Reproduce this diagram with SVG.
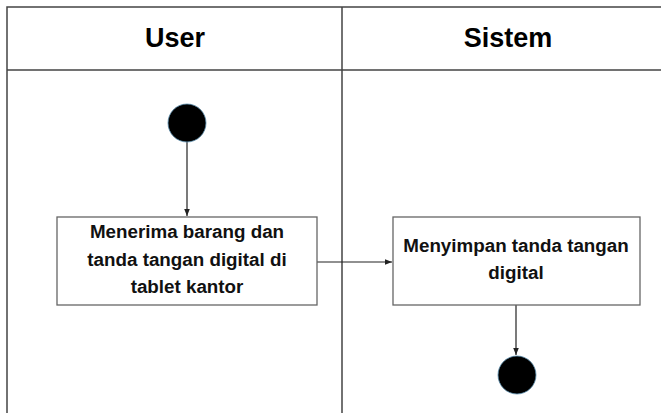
<svg xmlns="http://www.w3.org/2000/svg" width="661" height="413" viewBox="0 0 661 413">
<defs>
<style>
.lane{stroke:#444;stroke-width:1.5;fill:none}
.box{fill:#fff;stroke:#666;stroke-width:1.3}
.hdr{font-family:"Liberation Sans",Arial,sans-serif;font-weight:bold;font-size:27px;fill:#000;text-anchor:middle}
.lbl{font-family:"Liberation Sans",Arial,sans-serif;font-weight:bold;font-size:18.8px;fill:#111;text-anchor:middle}
.edge{stroke:#222;stroke-width:1.2;fill:none;marker-end:url(#arr)}
.dot{fill:#000;stroke:#5a8fb0;stroke-width:0.8}
</style>
<marker id="arr" viewBox="0 0 10 10" refX="10" refY="5" markerWidth="7" markerHeight="7" markerUnits="userSpaceOnUse" orient="auto">
<path d="M0,1 L10,5 L0,9 Z" fill="#222"/>
</marker>
</defs>
<rect width="661" height="413" fill="#fff"/>
<g id="swimlanes">
<path class="lane" d="M7,413 V7 H661 M7,70 H661 M342,7 V413"/>
<text class="hdr" x="175" y="47">User</text>
<text class="hdr" x="508" y="47">Sistem</text>
</g>
<g id="connectors">
<path class="edge" d="M187,142 V216"/>
<path class="edge" d="M317,262 H392"/>
<path class="edge" d="M516,305 V355"/>
</g>
<g id="start">
<circle class="dot" cx="187" cy="123" r="19"/>
</g>
<g id="menerima">
<rect class="box" x="57" y="217" width="260" height="88"/>
<text class="lbl" x="187" y="238">Menerima barang dan</text>
<text class="lbl" x="187" y="266">tanda tangan digital di</text>
<text class="lbl" x="187" y="293">tablet kantor</text>
</g>
<g id="menyimpan">
<rect class="box" x="393" y="217" width="247" height="88"/>
<text class="lbl" x="516" y="252">Menyimpan tanda tangan</text>
<text class="lbl" x="516" y="279">digital</text>
</g>
<g id="end">
<circle class="dot" cx="517" cy="375" r="19"/>
</g>
</svg>
